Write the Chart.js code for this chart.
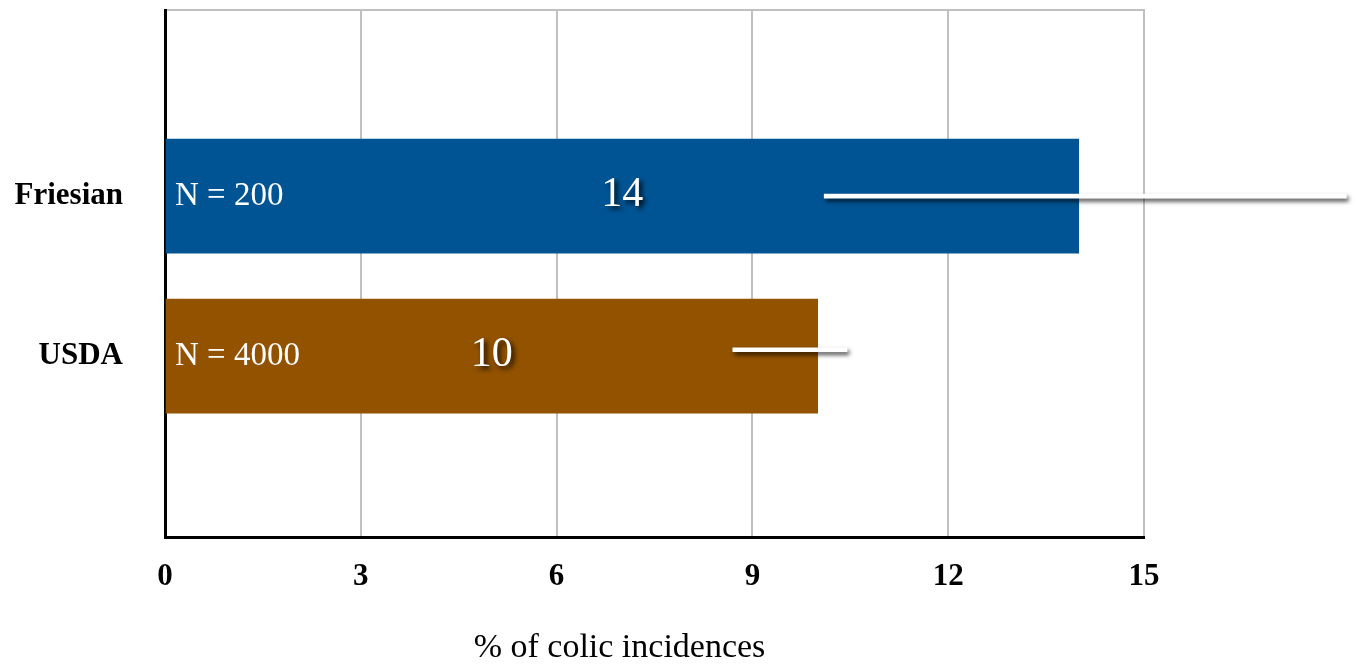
<!DOCTYPE html>
<html lang="en">
<head>
    <meta charset="UTF-8" />
    <title>Colic incidences</title>
    <script src="https://cdn.jsdelivr.net/npm/chart.js"></script>
    <style>
        * { box-sizing: border-box; margin: 0; padding: 0; }
        body { background: #ffffff; width: 1356px; height: 664px; overflow: hidden; }
        canvas { display: block; }
    </style>
</head>
<body>
    <canvas id="colicChart" width="1356" height="664"></canvas>

    <script>
        // groups, from top to bottom
        const groups = ['Friesian', 'USDA'];
        const sampleSizes = ['N = 200', 'N = 4000'];
        const incidence = [14, 10];           // % of colic incidences
        const errLow = [10.1, 8.7];
        const errHigh = [18.1, 10.45];
        const errRow = [1, 1.96];             // row position of each error line
        const xTicks = [0, 3, 6, 9, 12, 15];

        const barColors = ['#005494', '#925200'];
        const serif = "'Liberation Serif', 'Times New Roman', serif";

        const rows = groups.map((g, i) => i + 1);

        // white error lines with a soft drop shadow
        const shadowPlugin = {
            id: 'errShadow',
            beforeDatasetDraw(chart, args) {
                if (args.index !== 1) return;
                const ctx = chart.ctx;
                ctx.save();
                ctx.shadowColor = 'rgba(0, 0, 0, 0.7)';
                ctx.shadowOffsetX = 2;
                ctx.shadowOffsetY = 3;
                ctx.shadowBlur = 4;
            },
            afterDatasetDraw(chart, args) {
                if (args.index !== 1) return;
                chart.ctx.restore();
            }
        };

        // sample size at the start of each bar, value in the middle
        const barLabels = {
            id: 'barLabels',
            afterDatasetsDraw(chart) {
                const ctx = chart.ctx;
                const bars = chart.getDatasetMeta(0).data;
                bars.forEach((bar, i) => {
                    ctx.save();
                    ctx.fillStyle = '#ffffff';
                    ctx.textBaseline = 'middle';
                    ctx.font = '33px ' + serif;
                    ctx.textAlign = 'left';
                    ctx.fillText(sampleSizes[i], bar.base + 9, bar.y);

                    ctx.font = '42px ' + serif;
                    ctx.textAlign = 'center';
                    ctx.shadowColor = 'rgba(0, 0, 0, 0.85)';
                    ctx.shadowOffsetX = 3;
                    ctx.shadowOffsetY = 3;
                    ctx.shadowBlur = 5;
                    ctx.fillText(String(incidence[i]), (bar.x + bar.base) / 2, bar.y - 1);
                    ctx.restore();
                });

                // axis title
                const area = chart.chartArea;
                ctx.save();
                ctx.fillStyle = '#000000';
                ctx.font = '34px ' + serif;
                ctx.textAlign = 'center';
                ctx.textBaseline = 'middle';
                ctx.fillText('% of colic incidences', (area.left + area.right) / 2 - 35, 648);
                ctx.restore();
            }
        };

        new Chart(document.getElementById('colicChart'), {
            type: 'bar',
            data: {
                datasets: [
                    {
                        data: incidence.map((v, i) => ({ x: v, y: rows[i] })),
                        backgroundColor: barColors,
                        barThickness: 114,
                        grouped: false,
                        borderWidth: 0,
                        order: 1
                    },
                    {
                        data: errLow.map((lo, i) => ({ x: [lo, errHigh[i]], y: errRow[i] })),
                        backgroundColor: '#ffffff',
                        barThickness: 4,
                        grouped: false,
                        borderWidth: 0,
                        clip: false,
                        order: 0
                    }
                ]
            },
            options: {
                indexAxis: 'y',
                responsive: false,
                animation: false,
                devicePixelRatio: 1,
                layout: { padding: { left: 12, right: 212, top: 10, bottom: 0 } },
                plugins: {
                    legend: { display: false },
                    tooltip: { enabled: false }
                },
                scales: {
                    x: {
                        type: 'linear',
                        position: 'bottom',
                        min: 0,
                        max: 15,
                        afterBuildTicks: scale => { scale.ticks = xTicks.map(v => ({ value: v })); },
                        afterFit: scale => { scale.height = 127; },
                        grid: {
                            color: c => c.tick && c.tick.value === 0 ? 'rgba(0,0,0,0)' : '#c0c0c0',
                            lineWidth: 2,
                            drawTicks: false
                        },
                        border: { display: true, color: '#000000', width: 3 },
                        ticks: {
                            color: '#000000',
                            padding: 21,
                            font: { family: serif, size: 31, weight: 'bold' }
                        }
                    },
                    x2: {
                        type: 'linear',
                        position: 'top',
                        min: 0,
                        max: 15,
                        afterFit: scale => { scale.height = 0; },
                        grid: { display: false, drawTicks: false },
                        ticks: { display: false },
                        border: { display: true, color: '#c0c0c0', width: 2 }
                    },
                    y: {
                        type: 'linear',
                        reverse: true,
                        offset: false,
                        min: -0.1625,
                        max: 3.13,
                        afterBuildTicks: scale => { scale.ticks = rows.map(v => ({ value: v })); },
                        afterFit: scale => {
                            scale.width = 153;
                            scale.paddingTop = 0;
                            scale.paddingBottom = 0;
                        },
                        grid: { display: false, drawTicks: false },
                        border: { display: true, color: '#000000', width: 3 },
                        ticks: {
                            color: '#000000',
                            padding: 42,
                            font: { family: serif, size: 31, weight: 'bold' },
                            callback: v => groups[v - 1] || ''
                        }
                    }
                }
            },
            plugins: [shadowPlugin, barLabels]
        });
    </script>
</body>
</html>
